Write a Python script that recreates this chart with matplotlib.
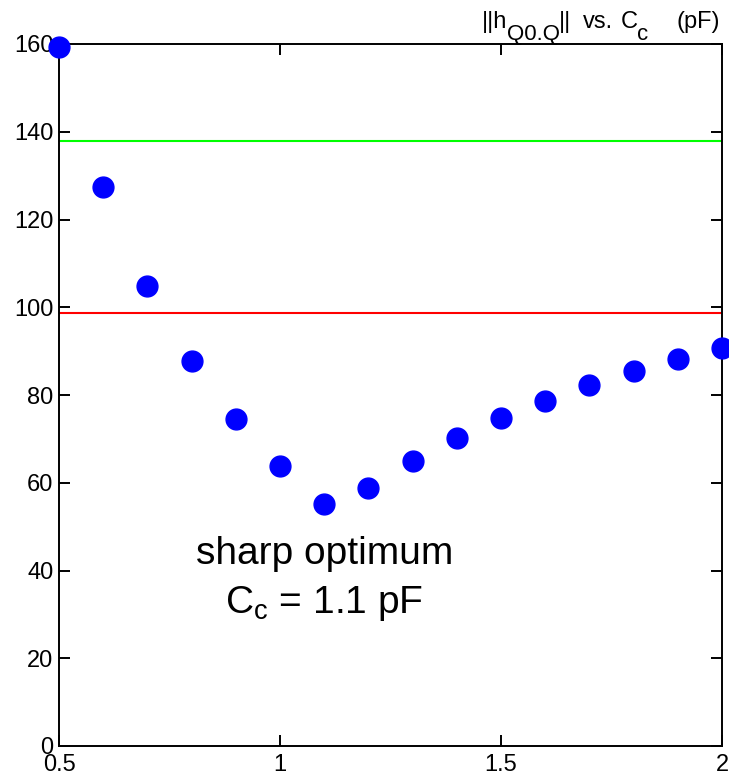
import matplotlib
matplotlib.use("Agg")
import matplotlib.pyplot as plt

plt.rcParams['font.family'] = ['Liberation Sans', 'DejaVu Sans']
plt.rcParams['mathtext.fontset'] = 'custom'
plt.rcParams['mathtext.rm'] = 'Liberation Sans'
plt.rcParams['mathtext.it'] = 'Liberation Sans'

cc = [0.5, 0.6, 0.7, 0.8, 0.9, 1.0, 1.1, 1.2, 1.3, 1.4, 1.5, 1.6, 1.7, 1.8, 1.9, 2.0]
norm_h = [159.3, 127.4, 104.8, 87.7, 74.5, 63.8, 55.2, 58.8, 65.0, 70.2, 74.8, 78.6, 82.3, 85.5, 88.2, 90.7]
green_level = 137.9
red_level = 98.7
xticks = [0.5, 1, 1.5, 2]
xticklabels = ['0.5', '1', '1.5', '2']
yticks = [0, 20, 40, 60, 80, 100, 120, 140, 160]

W, H = 729, 779
fig = plt.figure(figsize=(W / 100, H / 100), dpi=100)
ax = fig.add_axes([59 / W, 33 / H, 663 / W, 702 / H])
ax.axhline(green_level, color='#00ff00', lw=1.5, zorder=1)
ax.axhline(red_level, color='#ff0000', lw=1.5, zorder=1)
ax.plot(cc, norm_h, 'o', color='#0000ff', markersize=15, clip_on=False, zorder=3)
ax.set_xlim(0.5, 2)
ax.set_ylim(0, 160)
ax.set_xticks(xticks)
ax.set_xticklabels(xticklabels)
ax.set_yticks(yticks)
ax.tick_params(direction='in', length=8, width=1.4, top=True, right=True, labelsize=17, pad=4)
ax.tick_params(axis='x', pad=6)
for s in ax.spines.values():
    s.set_linewidth(1.4)

ax.text(1.1, 41.5, 'sharp optimum', ha='center', va='baseline', fontsize=28)
ax.text(1.1, 30.2, r'C$_\mathregular{c}$ = 1.1 pF', ha='center', va='baseline', fontsize=28)

# title pieces (left x in px, baseline y in px, text, size)
title_parts = [
    (482, 28, '||h', 17),
    (507, 40, 'Q0.Q', 16),
    (559, 28, '||', 17),
    (583, 28, 'vs.', 17),
    (621, 28, 'C', 17),
    (637, 40, 'c', 16),
    (677, 28, '(pF)', 17),
]
for px, py, s, fs in title_parts:
    fig.text(px / W, 1 - py / H, s, ha='left', va='baseline', fontsize=fs)

fig.savefig('out.png', dpi=100)
